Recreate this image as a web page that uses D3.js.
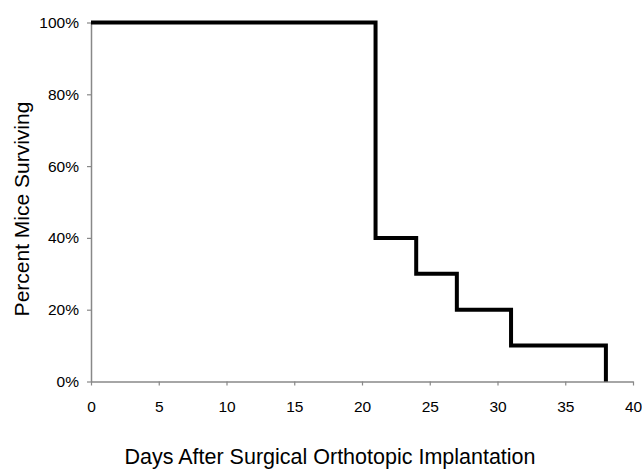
<!DOCTYPE html>
<html><head><meta charset="utf-8">
<script src="https://cdn.jsdelivr.net/npm/d3@7"></script>
<style>body{margin:0;background:#fff}svg{display:block;font-family:"Liberation Sans",Arial,sans-serif}</style>
</head><body><svg id="c" width="642" height="471"></svg>
<script>
const days = [0, 21, 24, 27, 31, 38];
const survival = [100, 40, 30, 20, 10, 0];
const xTicks = [0, 5, 10, 15, 20, 25, 30, 35, 40];
const yTicks = [0, 20, 40, 60, 80, 100];
const xTitle = "Days After Surgical Orthotopic Implantation";
const yTitle = "Percent Mice Surviving";

const svg = d3.select("#c");
const x = d3.scaleLinear().domain([0, 40]).range([91, 633]);
const y = d3.scaleLinear().domain([0, 100]).range([381.5, 22.5]);

const xAxis = svg.append("g").attr("transform", `translate(0,${y(0)})`)
  .call(d3.axisBottom(x).tickValues(xTicks).tickSize(4).tickPadding(15).tickSizeOuter(0));
const yAxis = svg.append("g").attr("transform", `translate(${x(0)},0)`)
  .call(d3.axisLeft(y).tickValues(yTicks).tickSize(4).tickPadding(8).tickSizeOuter(0).tickFormat(d => d + "%"));
[xAxis, yAxis].forEach(g => {
  g.select(".domain").attr("stroke", "#888").attr("stroke-width", 1.5);
  g.selectAll(".tick line").attr("stroke", "#888").attr("stroke-width", 1.2);
  g.selectAll("text").attr("fill", "#000").attr("font-size", 15.5).attr("font-family", '"Liberation Sans",Arial,sans-serif');
});

const pts = days.map((d, i) => [d, survival[i]]);
const line = d3.line().x(d => x(d[0])).y(d => y(d[1])).curve(d3.curveStepAfter);
svg.append("path").datum(pts).attr("d", line)
  .attr("fill", "none").attr("stroke", "#000").attr("stroke-width", 4).attr("stroke-linejoin", "miter");

svg.append("text").attr("x", 330).attr("y", 464).attr("text-anchor", "middle")
  .attr("font-size", 21.5).text(xTitle);
svg.append("text").attr("transform", "translate(29,209) rotate(-90)").attr("text-anchor", "middle")
  .attr("font-size", 21).text(yTitle);
</script></body></html>
